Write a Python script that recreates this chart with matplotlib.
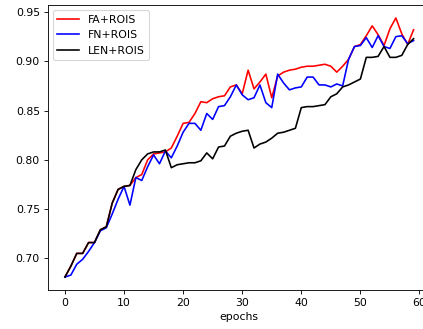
import matplotlib
matplotlib.use("Agg")
import matplotlib.pyplot as plt
import numpy as np

epochs = list(range(60))

fa_rois = [0.681, 0.692, 0.705, 0.705, 0.716, 0.716, 0.729, 0.732, 0.756, 0.770,
           0.773, 0.774, 0.782, 0.785, 0.800, 0.806, 0.807, 0.808, 0.812, 0.824,
           0.837, 0.838, 0.847, 0.859, 0.858, 0.862, 0.864, 0.865, 0.874, 0.876,
           0.867, 0.891, 0.872, 0.879, 0.887, 0.863, 0.885, 0.889, 0.891, 0.892,
           0.894, 0.895, 0.895, 0.896, 0.897, 0.895, 0.889, 0.895, 0.902, 0.915,
           0.917, 0.926, 0.936, 0.927, 0.916, 0.933, 0.944, 0.928, 0.917, 0.932]

fn_rois = [0.681, 0.683, 0.694, 0.699, 0.707, 0.716, 0.728, 0.731, 0.745, 0.760,
           0.773, 0.754, 0.782, 0.779, 0.793, 0.805, 0.796, 0.809, 0.802, 0.814,
           0.828, 0.837, 0.837, 0.830, 0.847, 0.841, 0.854, 0.855, 0.864, 0.876,
           0.866, 0.861, 0.863, 0.876, 0.858, 0.853, 0.887, 0.878, 0.871, 0.873,
           0.874, 0.884, 0.884, 0.876, 0.876, 0.874, 0.877, 0.875, 0.902, 0.915,
           0.916, 0.924, 0.914, 0.926, 0.915, 0.913, 0.925, 0.926, 0.918, 0.921]

len_rois = [0.681, 0.692, 0.705, 0.705, 0.716, 0.716, 0.729, 0.732, 0.756, 0.770,
            0.773, 0.774, 0.790, 0.800, 0.806, 0.808, 0.808, 0.810, 0.792, 0.795,
            0.796, 0.797, 0.797, 0.799, 0.807, 0.801, 0.813, 0.814, 0.824, 0.827,
            0.829, 0.830, 0.812, 0.816, 0.818, 0.822, 0.827, 0.828, 0.830, 0.832,
            0.853, 0.854, 0.854, 0.855, 0.856, 0.864, 0.867, 0.874, 0.876, 0.879,
            0.882, 0.904, 0.904, 0.905, 0.915, 0.904, 0.904, 0.906, 0.917, 0.923]

labels = ["FA+ROIS", "FN+ROIS", "LEN+ROIS"]
colors = ["red", "blue", "black"]

DPI = 78
fig = plt.figure(figsize=(423 / DPI, 329 / DPI), dpi=DPI)
ax = fig.add_axes([47.5 / 423, (329 - 290) / 329, 383.5 / 423, 285 / 329])

for series, lab, col in zip([fa_rois, fn_rois, len_rois], labels, colors):
    ax.plot(epochs, series, color=col, label=lab, linewidth=1.5)

ax.set_xlabel("epochs")
ax.legend(loc="upper left")

fig.savefig("out.png", dpi=DPI)
